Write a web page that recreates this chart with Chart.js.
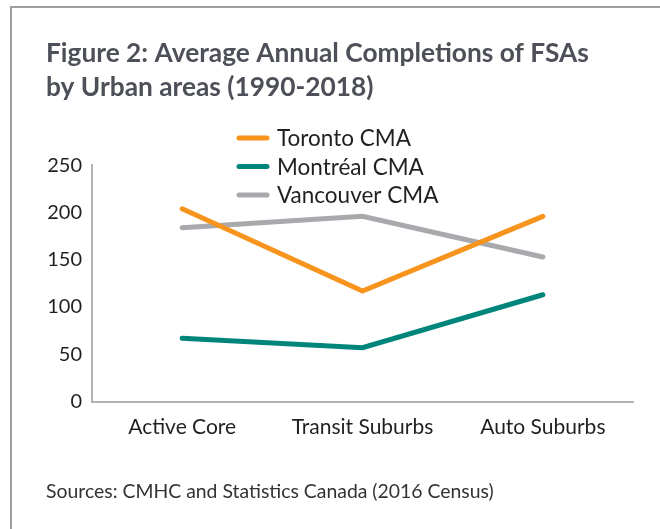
<!DOCTYPE html>
<html>
<head>
<meta charset="utf-8">
<script src="https://cdn.jsdelivr.net/npm/chart.js@4.4.0/dist/chart.umd.min.js"></script>
<style>
  html, body { margin: 0; padding: 0; background: #fff; }
  #frame {
    position: absolute; left: 10px; top: 6px; width: 700px; height: 600px;
    border-left: 2px solid #a0a0a0; border-top: 2px solid #a0a0a0;
  }
  #wrap { position: absolute; left: 0; top: 0; width: 660px; height: 529px; }
</style>
</head>
<body>
<div id="frame"></div>
<div id="wrap"><canvas id="chart"></canvas></div>
<script>
// chart data
const categories = ['Active Core', 'Transit Suburbs', 'Auto Suburbs'];
const toronto = [204, 117, 196];
const montreal = [67, 57, 113];
const vancouver = [184, 196, 153];
const seriesNames = ['Toronto CMA', 'Montréal CMA', 'Vancouver CMA'];
const seriesColors = ['#f7941d', '#00857a', '#a7a9ac'];
const yTicks = [0, 50, 100, 150, 200, 250];

const titleLines = ['Figure 2: Average Annual Completions of FSAs', 'by Urban areas (1990-2018)'];
const sourceText = 'Sources: CMHC and Statistics Canada (2016 Census)';

const FONT = 'Lato, "Open Sans", sans-serif';

// legend drawn as a stacked column, like the original
const stackedLegend = {
    id: 'stackedLegend',
    afterDraw(chart) {
        const ctx = chart.ctx;
        const x0 = chart.chartArea.left + 145;
        const y0 = 138;
        const rowH = 28.5;
        ctx.save();
        ctx.font = '22.5px ' + FONT;
        ctx.textBaseline = 'middle';
        chart.data.datasets.forEach(function(ds, i) {
            const y = y0 + i * rowH;
            ctx.strokeStyle = ds.borderColor;
            ctx.lineWidth = 5;
            ctx.lineCap = 'round';
            ctx.beginPath();
            ctx.moveTo(x0 + 2, y);
            ctx.lineTo(x0 + 30, y);
            ctx.stroke();
            ctx.fillStyle = '#231f20';
            ctx.fillText(ds.label, x0 + 40, y + 1);
        });
        ctx.restore();
    }
};

const ctx = document.getElementById('chart').getContext('2d');
const datasets = [toronto, montreal, vancouver].map(function(values, i) {
    return {
        label: seriesNames[i],
        data: values,
        borderColor: seriesColors[i],
        backgroundColor: seriesColors[i],
        borderWidth: 5,
        borderCapStyle: 'round',
        borderJoinStyle: 'miter',
        pointRadius: 0,
        tension: 0,
        fill: false
    };
});

new Chart(ctx, {
    type: 'line',
    data: { labels: categories, datasets: datasets },
    options: {
        responsive: true,
        maintainAspectRatio: false,
        animation: false,
        layout: { padding: { left: 46, right: 27, top: 0, bottom: 0 } },
        scales: {
            x: {
                offset: true,
                grid: { display: false, drawTicks: false },
                border: { display: true, color: '#b1b3b6', width: 2 },
                ticks: {
                    color: '#231f20',
                    font: { family: FONT, size: 21, lineHeight: 1.2 },
                    padding: 13,
                    maxRotation: 0
                }
            },
            y: {
                min: 0,
                max: 250,
                afterBuildTicks: function(scale) {
                    scale.ticks = yTicks.map(function(v) { return { value: v }; });
                },
                afterFit: function(scale) { scale.width = 46; },
                grid: { display: false, drawTicks: false },
                border: { display: true, color: '#b1b3b6', width: 2 },
                ticks: {
                    color: '#231f20',
                    font: { family: FONT, size: 20 },
                    padding: 10
                }
            }
        },
        plugins: {
            legend: { display: false },
            tooltip: { enabled: false },
            title: {
                display: true,
                text: titleLines,
                align: 'start',
                color: '#4d5058',
                font: { family: FONT, size: 26.3, weight: 'bold', lineHeight: 1.27 },
                padding: { top: 37, bottom: 61.5 }
            },
            subtitle: {
                display: true,
                position: 'bottom',
                text: sourceText,
                align: 'start',
                color: '#333333',
                font: { family: FONT, size: 19.4, lineHeight: 1.2 },
                padding: { top: 27, bottom: 26 }
            }
        }
    },
    plugins: [stackedLegend]
});
</script>
</body>
</html>
